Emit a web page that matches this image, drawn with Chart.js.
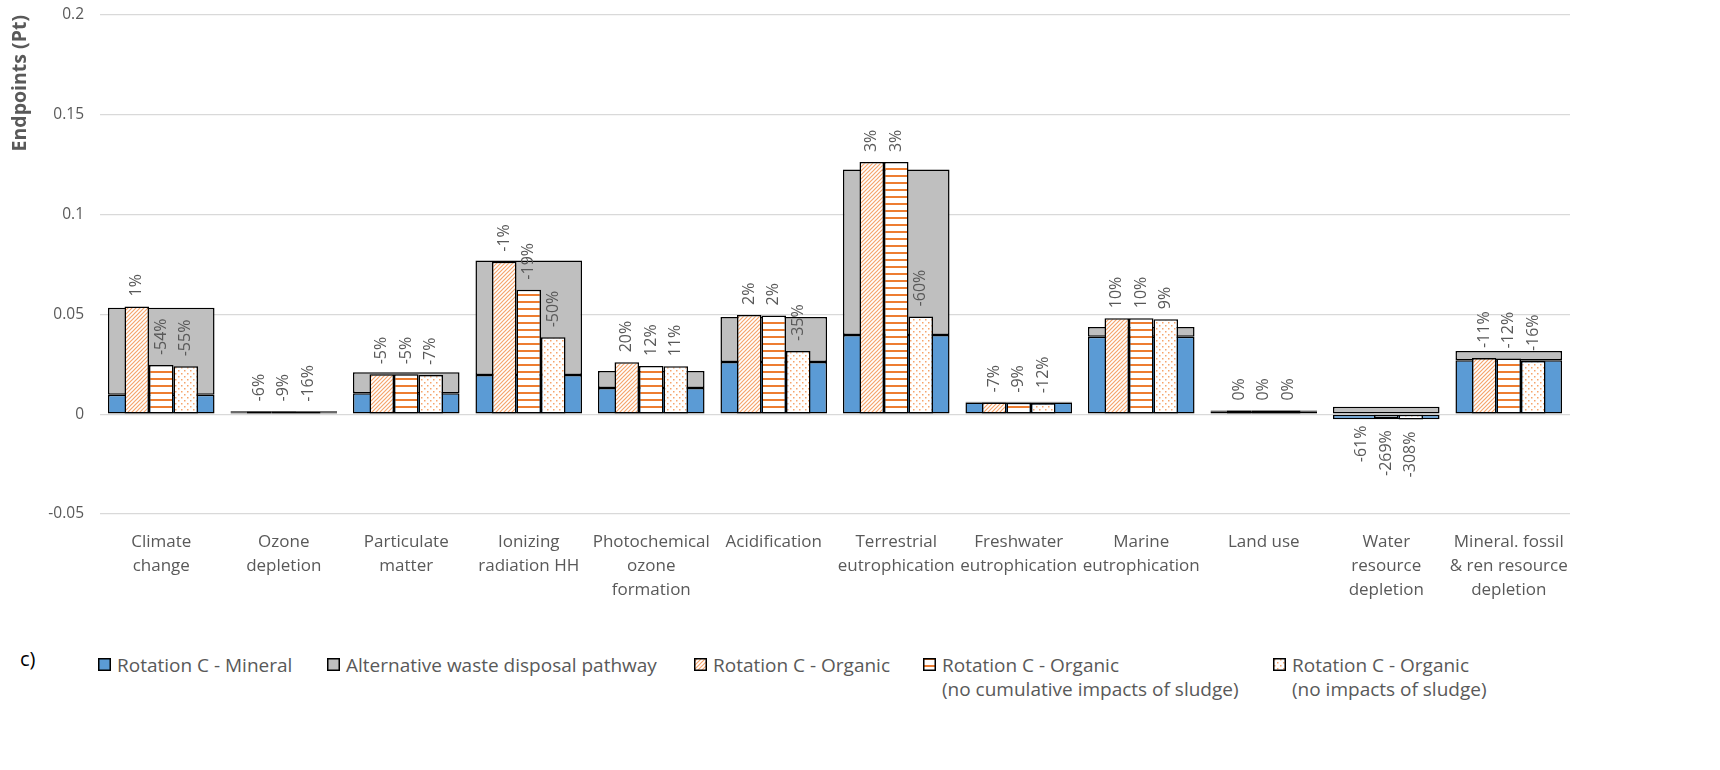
<!DOCTYPE html>
<html>
<head>
<meta charset="utf-8">
<script src="https://cdn.jsdelivr.net/npm/chart.js@4/dist/chart.umd.min.js"></script>
<style>
  body { margin: 0; background: #fff; font-family: "Open Sans", sans-serif; }
  #wrap { position: relative; width: 1720px; height: 770px; }
  #box { position: absolute; left: 0; top: 0; width: 1720px; height: 620px; }
  #tag { position: absolute; left: 20px; top: 645px; font-size: 20px; color: #000; }
  .lg { position: absolute; top: 653px; font-size: 19px; color: #595959; line-height: 24px; white-space: nowrap; }
  .lg canvas { position: absolute; left: -19px; top: 5px; }
</style>
</head>
<body>
<div id="wrap">
  <div id="box"><canvas id="myChart"></canvas></div>
  <div id="tag">c)</div>
  <div class="lg" style="left:117px"><canvas width="13" height="13" data-k="0"></canvas>Rotation C - Mineral</div>
  <div class="lg" style="left:346px"><canvas width="13" height="13" data-k="1"></canvas>Alternative waste disposal pathway</div>
  <div class="lg" style="left:713px"><canvas width="13" height="13" data-k="2"></canvas>Rotation C - Organic</div>
  <div class="lg" style="left:942px"><canvas width="13" height="13" data-k="3"></canvas>Rotation C - Organic<br>(no cumulative impacts of sludge)</div>
  <div class="lg" style="left:1292px"><canvas width="13" height="13" data-k="4"></canvas>Rotation C - Organic<br>(no impacts of sludge)</div>
</div>
<script>
// categories
const labels = [
  ['Climate', 'change'],
  ['Ozone', 'depletion'],
  ['Particulate', 'matter'],
  ['Ionizing', 'radiation HH'],
  ['Photochemical', 'ozone', 'formation'],
  ['Acidification'],
  ['Terrestrial', 'eutrophication'],
  ['Freshwater', 'eutrophication'],
  ['Marine', 'eutrophication'],
  ['Land use'],
  ['Water', 'resource', 'depletion'],
  ['Mineral. fossil', '& ren resource', 'depletion']
];

// wide stacked bar
const mineral     = [0.0097, 0.0010, 0.0105, 0.0196, 0.0131, 0.0262, 0.0397, 0.0058, 0.0388, 0.0015, -0.0025, 0.0270];
const alternative = [0.0436, 0.0005, 0.0105, 0.0574, 0.0085, 0.0225, 0.0829, 0.0005, 0.0049, 0.0003, 0.0037, 0.0047];

// narrow overlaid bars
const organic      = [0.0540, 0.00140, 0.0200, 0.0764, 0.0260, 0.0497, 0.1263, 0.00586, 0.0481, 0.0018, 0.0005, 0.0282];
const organicNoCum = [0.0246, 0.00137, 0.0200, 0.0624, 0.0242, 0.0495, 0.1263, 0.00573, 0.0481, 0.0018, -0.0020, 0.0279];
const organicNoImp = [0.0240, 0.00126, 0.0196, 0.0385, 0.0240, 0.0317, 0.0490, 0.00554, 0.0476, 0.0018, -0.0027, 0.0266];

// percent labels
const pctOrganic      = [1, -6, -5, -1, 20, 2, 3, -7, 10, 0, -61, -11];
const pctOrganicNoCum = [-54, -9, -5, -19, 12, 2, 3, -9, 10, 0, -269, -12];
const pctOrganicNoImp = [-55, -16, -7, -50, 11, -35, -60, -12, 9, 0, -308, -16];

const yTicks = [0.2, 0.15, 0.1, 0.05, 0, -0.05];

const BLUE = '#5B9BD5';
const GRAY = '#BFBFBF';
const ORANGE = '#ED7D31';
const LIGHT = '#F5A46C';

function makePattern(kind) {
  const c = document.createElement('canvas');
  const ctx = c.getContext('2d');
  if (kind === 'diag') {
    c.width = 4; c.height = 4;
    ctx.fillStyle = '#fff'; ctx.fillRect(0, 0, 4, 4);
    ctx.strokeStyle = LIGHT; ctx.lineWidth = 1.2;
    ctx.beginPath();
    ctx.moveTo(-1, 5); ctx.lineTo(5, -1);
    ctx.moveTo(-1, 1); ctx.lineTo(1, -1);
    ctx.moveTo(3, 5); ctx.lineTo(5, 3);
    ctx.stroke();
  } else if (kind === 'horiz') {
    c.width = 4; c.height = 7;
    ctx.fillStyle = '#fff'; ctx.fillRect(0, 0, 4, 7);
    ctx.fillStyle = ORANGE; ctx.fillRect(0, 0, 4, 2);
  } else {
    c.width = 6; c.height = 6;
    ctx.fillStyle = '#fff'; ctx.fillRect(0, 0, 6, 6);
    ctx.fillStyle = LIGHT;
    ctx.fillRect(1, 1, 1.5, 1.5);
    ctx.fillRect(4, 4, 1.5, 1.5);
  }
  return document.createElement('canvas').getContext('2d').createPattern(c, 'repeat');
}

const patDiag = makePattern('diag');
const patHoriz = makePattern('horiz');
const patDots = makePattern('dots');

// legend swatches
const swFill = [BLUE, GRAY, patDiag, patHoriz, patDots];
document.querySelectorAll('.lg canvas').forEach(cv => {
  const g = cv.getContext('2d');
  g.fillStyle = swFill[+cv.dataset.k];
  g.fillRect(0, 0, 13, 13);
  g.strokeStyle = '#000'; g.lineWidth = 1.5;
  g.strokeRect(0.75, 0.75, 11.5, 11.5);
});

// rotated percentage labels at the bar ends
const pctPlugin = {
  id: 'pctLabels',
  afterDatasetsDraw(chart) {
    const ctx = chart.ctx;
    ctx.save();
    ctx.font = '16px "Open Sans"';
    ctx.fillStyle = '#595959';
    ctx.textBaseline = 'middle';
    chart.data.datasets.forEach((ds, i) => {
      if (!ds.pct) return;
      chart.getDatasetMeta(i).data.forEach((bar, j) => {
        const v = ds.data[j];
        const txt = ds.pct[j] + '%';
        ctx.save();
        if (v >= 0.001) {
          ctx.translate(bar.x, bar.y - 10);
          ctx.rotate(-Math.PI / 2);
          ctx.textAlign = 'left';
        } else {
          ctx.translate(bar.x, Math.max(bar.y, bar.base) + 12);
          ctx.rotate(-Math.PI / 2);
          ctx.textAlign = 'right';
        }
        ctx.fillText(txt, 0, 0);
        ctx.restore();
      });
    });
    ctx.restore();
  }
};

const wide = { stack: 'wide', grouped: false, categoryPercentage: 0.87, barPercentage: 1, order: 2,
               borderColor: '#000', borderWidth: 1.5, borderSkipped: false };
const narrow = { categoryPercentage: 0.6, barPercentage: 1, order: 1,
                 borderColor: '#000', borderWidth: 1.5, borderSkipped: false };

const config = {
  type: 'bar',
  data: {
    labels: labels,
    datasets: [
      Object.assign({ label: 'Rotation C - Mineral', data: mineral, backgroundColor: BLUE }, wide),
      Object.assign({ label: 'Alternative waste disposal pathway', data: alternative, backgroundColor: GRAY }, wide),
      Object.assign({ label: 'Rotation C - Organic', data: organic, backgroundColor: patDiag, stack: 'p1', pct: pctOrganic }, narrow),
      Object.assign({ label: 'Rotation C - Organic (no cumulative impacts of sludge)', data: organicNoCum, backgroundColor: patHoriz, stack: 'p2', pct: pctOrganicNoCum }, narrow),
      Object.assign({ label: 'Rotation C - Organic (no impacts of sludge)', data: organicNoImp, backgroundColor: patDots, stack: 'p3', pct: pctOrganicNoImp }, narrow)
    ]
  },
  options: {
    responsive: true,
    maintainAspectRatio: false,
    animation: false,
    layout: { padding: { top: 15, right: 150, left: 0, bottom: 8 } },
    plugins: { legend: { display: false }, tooltip: { enabled: false } },
    scales: {
      x: {
        offset: true,
        grid: { display: false },
        border: { display: false },
        ticks: { color: '#595959', font: { family: 'Open Sans', size: 17, lineHeight: 1.42 }, maxRotation: 0, autoSkip: false, padding: 8 },
        afterFit: s => { s.height = 98; }
      },
      y: {
        stacked: true,
        min: -0.05,
        max: 0.2,
        afterBuildTicks: s => { s.ticks = yTicks.map(v => ({ value: v })); },
        ticks: { color: '#595959', font: { family: 'Open Sans', size: 15.5 }, padding: 16,
                 callback: v => String(+v.toFixed(2)) },
        grid: { color: '#D9D9D9', lineWidth: 1.3, tickLength: 0 },
        border: { display: false },
        title: { display: true, text: 'Endpoints (Pt)', align: 'end', color: '#595959',
                 font: { family: 'Open Sans', size: 19.5, weight: 'bold' }, padding: { top: 9, bottom: 0 } },
        afterFit: s => { s.width = 100; s.paddingTop = 0; s.paddingBottom = 0; }
      }
    }
  },
  plugins: [pctPlugin]
};

const myChart = new Chart(document.getElementById('myChart'), config);
</script>
</body>
</html>
